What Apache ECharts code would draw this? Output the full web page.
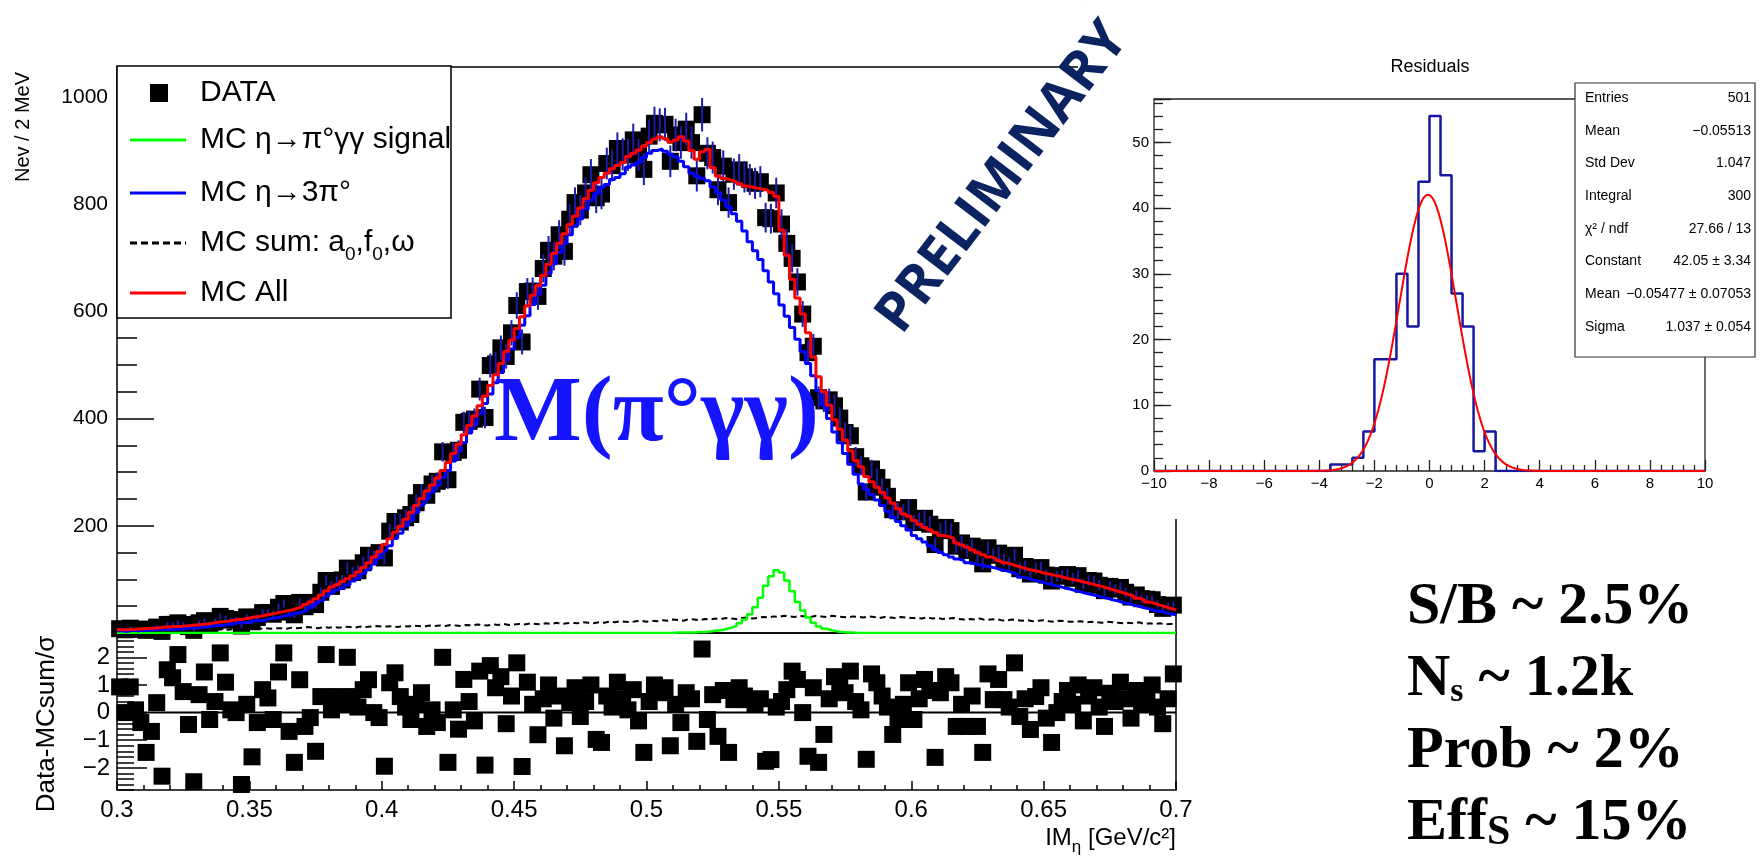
<!DOCTYPE html>
<html>
<head>
<meta charset="utf-8">
<script src="https://cdn.jsdelivr.net/npm/echarts@6/dist/echarts.min.js"></script>
<style>
  html, body { margin: 0; padding: 0; background: #fff; }
  #chart { width: 1761px; height: 859px; }
</style>
</head>
<body>
<div id="chart"></div>
<script>
// Invariant mass binning: 200 bins of 2 MeV between 0.3 and 0.7 GeV/c^2
const BIN_START = 0.3;
const BIN_WIDTH = 0.002;

// MC All (red)
const mcAll = [
  6,6,7,7,8,9,9,10,11,11,
  12,12,13,14,15,16,17,18,20,21,
  22,24,25,26,28,30,31,33,35,37,
  39,41,43,46,49,53,58,64,71,79,
  86,90,96,101,107,114,122,131,142,152,
  165,176,188,199,212,225,238,251,265,276,
  289,303,318,335,352,370,387,405,424,442,
  462,482,503,525,546,568,590,610,630,648,
  667,688,708,727,745,762,778,793,810,826,
  840,850,858,866,872,878,889,895,901,908,
  915,921,926,922,916,920,926,918,900,884,
  898,902,868,852,848,845,842,838,834,832,
  830,828,826,822,815,752,705,660,625,595,
  560,515,478,450,425,398,380,360,340,322,
  310,292,282,272,262,252,242,232,222,218,
  210,203,197,192,187,182,180,177,168,164,
  160,155,150,146,142,139,135,131,128,125,
  122,119,117,115,112,110,108,106,103,101,
  99,97,94,92,89,87,84,81,78,75,
  72,69,65,62,58,55,52,49,46,43
];

// MC eta -> 3pi0 (blue)
const mc3pi = [
  4,3,5,4,5,5,6,6,7,6,
  8,7,8,10,9,11,11,13,14,14,
  16,17,19,19,20,23,23,24,27,28,
  30,33,33,37,39,42,48,55,60,69,
  75,80,84,90,97,102,111,119,129,140,
  153,163,177,186,200,211,225,239,251,263,
  275,290,303,321,339,355,373,389,409,428,
  446,467,486,510,530,551,574,592,613,632,
  649,671,689,710,727,743,760,773,791,808,
  820,831,837,846,850,857,869,873,878,887,
  895,900,903,899,893,888,880,870,858,852,
  848,844,832,822,808,795,782,768,750,730,
  713,697,676,655,633,612,591,570,548,525,
  503,480,452,425,400,375,355,335,315,296,
  278,268,258,248,238,227,216,208,200,192,
  182,176,170,163,156,150,146,142,138,135,
  131,129,127,125,123,121,118,116,113,110,
  104,102,99,97,94,92,89,87,84,82,
  79,77,74,72,70,67,65,62,60,57,
  55,52,50,47,45,42,40,38,36,34
];

// MC eta -> pi0 gamma gamma signal (green)
const mcSignal = [
  0,0,0,0,0,0,0,0,0,0,
  0,0,0,0,0,0,0,0,0,0,
  0,0,0,0,0,0,0,0,0,0,
  0,0,0,0,0,0,0,0,0,0,
  0,0,0,0,0,0,0,0,0,0,
  0,0,0,0,0,0,0,0,0,0,
  0,0,0,0,0,0,0,0,0,0,
  0,0,0,0,0,0,0,0,0,0,
  0,0,0,0,0,0,0,0,0,0,
  0,0,0,0,0,0,0,0,0,0,
  0,0,0,0,0,1,1,1,1,2,
  2,3,4,5,7,10,13,18,25,35,
  48,66,88,106,117,113,98,78,58,42,
  29,19,12,8,5,3,2,1,1,0,
  0,0,0,0,0,0,0,0,0,0,
  0,0,0,0,0,0,0,0,0,0,
  0,0,0,0,0,0,0,0,0,0,
  0,0,0,0,0,0,0,0,0,0,
  0,0,0,0,0,0,0,0,0,0,
  0,0,0,0,0,0,0,0,0,0
];

// MC sum of a0, f0, omega backgrounds (black dashed)
const mcOther = [
  2,3,2,3,3,4,3,4,4,5,
  4,5,5,4,6,5,6,5,6,7,
  6,7,6,7,8,7,8,9,8,9,
  9,8,10,9,10,11,10,9,11,10,
  11,10,12,11,10,12,11,12,13,12,
  12,13,11,13,12,14,13,12,14,13,
  14,13,15,14,13,15,14,16,15,14,
  16,15,17,15,16,17,16,18,17,16,
  18,17,19,17,18,19,18,20,19,18,
  20,19,21,20,22,21,20,22,23,21,
  23,22,24,23,25,24,23,26,25,24,
  26,25,27,26,28,27,26,28,29,27,
  28,30,29,31,30,32,31,30,32,31,
  30,32,31,30,32,31,30,29,31,30,
  29,31,30,28,30,29,28,30,29,28,
  28,27,29,27,28,26,27,28,26,25,
  26,25,27,24,25,26,24,23,25,24,
  23,24,22,23,24,22,21,23,22,21,
  21,22,20,21,20,19,21,20,19,18,
  19,18,20,17,18,17,18,16,17,16
];

// DATA counts per bin
const dataCounts = [
  8,6,9,7,7,5,7,11,3,16,
  16,19,16,12,5,19,23,17,22,31,
  27,24,25,13,30,21,29,38,38,35,
  48,55,39,34,57,49,57,53,76,98,
  87,96,99,121,113,116,131,145,142,150,
  140,190,208,207,215,221,243,262,257,278,
  283,338,286,337,341,393,395,399,455,402,
  499,502,532,516,560,611,543,637,638,628,
  680,714,703,743,712,772,803,789,821,855,
  812,819,876,872,904,893,892,920,892,865,
  927,951,948,949,880,929,915,940,915,853,
  967,895,887,827,871,803,856,864,851,846,
  839,842,775,773,821,763,727,699,655,595,
  523,535,439,433,435,424,401,374,368,329,
  312,263,306,290,272,255,230,228,226,234,
  206,210,214,203,165,192,197,191,162,168,
  154,162,144,129,159,145,149,136,130,145,
  120,124,110,121,122,108,97,106,107,109,
  102,107,91,98,97,89,79,87,82,85,
  76,67,71,64,63,62,53,46,49,52
];

// (Data - MC sum) / sigma per bin
const pulls = [
  0.93,0.0,0.93,0.1,-0.36,-1.44,-0.68,0.36,-2.3,1.55,
  1.26,2.1,0.76,-0.43,-2.5,0.65,1.47,-0.25,0.4,2.16,
  1.1,0.1,0.0,-2.6,0.3,-1.6,-0.36,0.83,0.53,-0.25,
  1.47,2.16,-0.68,-1.8,1.19,-0.5,-0.18,-1.4,0.58,2.1,
  0.1,0.58,0.3,2.0,0.58,0.2,0.83,1.19,0.0,-0.18,
  -1.94,1.08,1.44,0.58,0.2,-0.25,0.3,0.72,-0.5,0.1,
  -0.36,2.0,-1.8,0.1,-0.6,1.2,0.4,-0.3,1.5,-1.9,
  1.7,0.9,1.3,-0.4,0.6,1.8,-1.95,1.1,0.3,-0.8,
  0.5,1.0,-0.2,0.6,-1.2,0.36,0.9,-0.14,0.4,1.0,
  -0.97,-1.08,0.6,0.2,1.1,0.5,0.1,0.83,-0.3,-1.44,
  0.4,1.0,0.72,0.9,-1.2,0.3,-0.36,0.72,0.5,-1.04,
  2.3,-0.25,0.65,-0.86,0.8,-1.44,0.47,0.9,0.6,0.47,
  0.3,0.5,-1.76,-1.7,0.2,0.4,0.83,1.5,1.2,0.0,
  -1.58,0.9,-1.8,-0.79,0.5,1.3,1.08,0.72,1.5,0.4,
  0.1,-1.69,1.4,1.08,0.6,0.2,-0.79,-0.25,0.3,1.08,
  -0.25,0.5,1.2,0.8,-1.62,0.72,1.3,1.08,-0.5,0.3,
  -0.5,0.6,-0.5,-1.44,1.4,0.47,1.2,0.47,0.2,1.8,
  -0.14,0.5,-0.61,0.58,0.9,-0.2,-1.08,0.0,0.4,0.8,
  0.3,1.0,-0.3,0.6,0.9,0.2,-0.5,0.7,0.4,1.1,
  0.5,-0.2,0.8,0.3,0.6,1.0,0.2,-0.4,0.5,1.4
];

// Residuals histogram: 50 bins of 0.4 between -10 and 10
const RES_START = -10;
const RES_WIDTH = 0.4;
const residualCounts = [
  0,0,0,0,0,0,0,0,0,0,
  0,0,0,0,0,0,1,1,2,6,
  17,17,30,22,44,54,45,27,22,3,
  6,0,0,0,0,0,0,0,0,0,
  0,0,0,0,0,0,0,0,0,0
];

// Gaussian fit parameters shown in the statistics box
const gausFit = { constant: 42.05, mean: -0.05477, sigma: 1.037 };

const statsRows = [
  ['Entries', '501'],
  ['Mean', '\u22120.05513'],
  ['Std Dev', '1.047'],
  ['Integral', '300'],
  ['\u03c7\u00b2 / ndf', '27.66 / 13'],
  ['Constant', '42.05 \u00b1 3.34'],
  ['Mean', '\u22120.05477 \u00b1 0.07053'],
  ['Sigma', '1.037 \u00b1 0.054']
];

const summaryRich = [
  '{b|S/B ~ 2.5%}',
  '{b|N}{s|s}{b| ~ 1.2k}',
  '{b|Prob ~ 2%}',
  '{b|Eff}{S|S}{b| ~ 15%}'
];

// ---------------------------------------------------------------
const SANS = '"Liberation Sans", Arial, Helvetica, sans-serif';
const SERIF = '"Liberation Serif", "Times New Roman", serif';
const BOLDSANS = '"Open Sans", "Liberation Sans", sans-serif';
const withMinus = v => String(v).replace('-', '\u2212');

function histSteps(vals, start, width) {
  const pts = [];
  vals.forEach((v, i) => {
    pts.push([start + i * width, v], [start + (i + 1) * width, v]);
  });
  return pts;
}
function binCenters(vals, start, width) {
  return vals.map((v, i) => [start + (i + 0.5) * width, v]);
}

const fitCurve = [];
for (let k = 0; k <= 400; k++) {
  const x = RES_START + k * 0.05;
  const t = (x - gausFit.mean) / gausFit.sigma;
  fitCurve.push([x, gausFit.constant * Math.exp(-0.5 * t * t)]);
}

const blackLine = { color: '#000', width: 1.5 };
const insetLine = { color: '#222', width: 1.3 };
const noLine = { show: false, onZero: false };

const chart = echarts.init(document.getElementById('chart'), null, { renderer: 'canvas', width: 1761, height: 859 });

const lineSeries = (name, vals, color, width, type, z) => ({
  name, type: 'line', xAxisIndex: 0, yAxisIndex: 0,
  data: histSteps(vals, BIN_START, BIN_WIDTH),
  symbol: 'none', silent: true, z,
  lineStyle: { color, width, type: type || 'solid' }
});

const txt = (x, y, text, font, extra) => Object.assign({
  type: 'text', x, y, silent: true,
  style: Object.assign({ text, font, fill: '#000', align: 'left', verticalAlign: 'middle', textAlign: 'left', textVerticalAlign: 'middle' }, (extra && extra.style) || {})
}, extra ? { z: extra.z, rotation: extra.rotation || 0 } : {});

const graphics = [];
// inset pad background
graphics.push({ type: 'rect', shape: { x: 1078, y: 30, width: 683, height: 489 }, style: { fill: '#fff' }, z: 10, silent: true });
graphics.push(txt(1430, 67, 'Residuals', '18px ' + SANS, { z: 13, style: { align: 'center', textAlign: 'center' } }));
// statistics box
graphics.push({ type: 'rect', shape: { x: 1575, y: 83, width: 180, height: 274 }, style: { fill: '#fff', stroke: '#333', lineWidth: 1.2 }, z: 14, silent: true });
statsRows.forEach((row, i) => {
  const y = 98 + i * 32.7;
  graphics.push(txt(1585, y, row[0], '14px ' + SANS, { z: 15 }));
  graphics.push(txt(1751, y, row[1], '14px ' + SANS, { z: 15, style: { align: 'right', textAlign: 'right' } }));
});

// legend box
graphics.push({ type: 'rect', shape: { x: 117, y: 66, width: 334, height: 252 }, style: { fill: '#fff', stroke: '#000', lineWidth: 1.5 }, z: 20, silent: true });
graphics.push({ type: 'rect', shape: { x: 150, y: 84, width: 18, height: 18 }, style: { fill: '#000' }, z: 21, silent: true });
const legendLines = [
  { y: 140, color: '#00ff00', dash: null },
  { y: 193, color: '#0000ff', dash: null },
  { y: 243, color: '#000000', dash: [7, 4] },
  { y: 293, color: '#ff0000', dash: null }
];
legendLines.forEach(l => {
  graphics.push({ type: 'line', shape: { x1: 130, y1: l.y, x2: 186, y2: l.y }, z: 21, silent: true,
    style: { stroke: l.color, lineWidth: 3, lineDash: l.dash } });
});
const legendTexts = [
  { y: 93, text: 'DATA' },
  { y: 140, text: 'MC \u03b7\u2192\u03c0\u00b0\u03b3\u03b3 signal' },
  { y: 193, text: 'MC \u03b7\u21923\u03c0\u00b0' },
  { y: 243, text: '{n|MC sum: a}{s|0}{n|,f}{s|0}{n|,\u03c9}' },
  { y: 293, text: 'MC All' }
];
legendTexts.forEach(t => {
  graphics.push(txt(200, t.y, t.text, '30px ' + SANS, { z: 21, style: {
    rich: { n: { font: '30px ' + SANS, fill: '#000' }, s: { font: '19px ' + SANS, fill: '#000', verticalAlign: 'bottom', padding: [0, 0, -6, 0] } } } }));
});

// axis titles
graphics.push(txt(23, 127, 'Nev / 2 MeV', '20px ' + SANS, { z: 20, rotation: Math.PI / 2, style: { align: 'center', textAlign: 'center' } }));
graphics.push(txt(47, 724, 'Data-MCsum/\u03c3', '26px ' + SANS, { z: 20, rotation: Math.PI / 2, style: { align: 'center', textAlign: 'center' } }));
graphics.push(txt(1176, 838, '{n|IM}{s|\u03b7}{n| [GeV/c\u00b2]}', '24px ' + SANS, { z: 20, style: { align: 'right', textAlign: 'right',
  rich: { n: { font: '24px ' + SANS, fill: '#000' }, s: { font: '17px ' + SANS, fill: '#000', verticalAlign: 'bottom', padding: [0, 0, -6, 0] } } } }));

// annotations
graphics.push(txt(1019, -32, '(\u03c0\u00b0\u03b3\u03b3)', '67px ' + SERIF, { z: 30, style: { fill: '#3a6ab8', align: 'center', textAlign: 'center' } }));
graphics.push(txt(1003, 178, 'PRELIMINARY', 'bold 55px ' + BOLDSANS, { z: 30, rotation: 52.5 * Math.PI / 180, style: { fill: '#0b2461', align: 'center', textAlign: 'center' } }));
graphics.push(txt(494, 416, 'M(\u03c0\u00b0\u03b3\u03b3)', 'bold 93px ' + SERIF, { z: 30, style: { fill: '#1414ff' } }));

const richSummary = {
  b: { font: 'bold 60px ' + SERIF, fill: '#000' },
  s: { font: 'bold 34px ' + SERIF, fill: '#000', verticalAlign: 'bottom' },
  S: { font: 'bold 42px ' + SERIF, fill: '#000', verticalAlign: 'bottom' }
};
summaryRich.forEach((t, i) => {
  graphics.push(txt(1407, 607 + i * 72.3, t, 'bold 60px ' + SERIF, { z: 20, style: { rich: richSummary } }));
});

const option = {
  animation: false,
  backgroundColor: '#fff',
  grid: [
    { left: 117, top: 67, width: 1059, height: 566, show: true, borderColor: '#000', borderWidth: 1.5, backgroundColor: 'transparent' },
    { left: 117, top: 633, width: 1059, height: 157, show: true, borderColor: '#000', borderWidth: 1.5, backgroundColor: 'transparent' },
    { left: 1154, top: 99, width: 551, height: 372, show: true, borderColor: '#222', borderWidth: 1.3, backgroundColor: 'transparent', z: 12 }
  ],
  xAxis: [
    { gridIndex: 0, type: 'value', min: 0.3, max: 0.7, interval: 0.05,
      axisLine: noLine, axisTick: { show: false }, axisLabel: { show: false }, splitLine: { show: false } },
    { gridIndex: 1, type: 'value', min: 0.3, max: 0.7, interval: 0.05,
      axisLine: noLine,
      axisTick: { inside: true, length: 9, lineStyle: blackLine },
      minorTick: { show: true, splitNumber: 5, length: 5, lineStyle: blackLine },
      axisLabel: { color: '#000', fontFamily: SANS, fontSize: 24, margin: 8 },
      splitLine: { show: false } },
    { gridIndex: 2, type: 'value', min: -10, max: 10, interval: 2, z: 12,
      axisLine: noLine,
      axisTick: { inside: true, length: 11, lineStyle: insetLine },
      minorTick: { show: true, splitNumber: 5, length: 6, lineStyle: insetLine },
      axisLabel: { color: '#000', fontFamily: SANS, fontSize: 15, margin: 5, formatter: v => withMinus(v) },
      splitLine: { show: false } }
  ],
  yAxis: [
    { gridIndex: 0, type: 'value', position: 'left', min: 0, max: 1056, interval: 50,
      axisLine: noLine, axisTick: { inside: true, length: 20, lineStyle: blackLine },
      axisLabel: { show: false }, splitLine: { show: false } },
    { gridIndex: 0, type: 'value', position: 'left', min: 0, max: 1056, interval: 200,
      axisLine: noLine, axisTick: { inside: true, length: 37, lineStyle: blackLine },
      axisLabel: { color: '#000', fontFamily: SANS, fontSize: 21, margin: 9,
        formatter: v => (v > 0 && v % 200 === 0) ? String(v) : '' },
      splitLine: { show: false } },
    { gridIndex: 1, type: 'value', position: 'left', min: -2.8, max: 2.88, interval: 0.2,
      axisLine: noLine, axisTick: { inside: true, length: 17, lineStyle: blackLine },
      axisLabel: { color: '#000', fontFamily: SANS, fontSize: 24, margin: 7,
        formatter: v => Math.abs(v - Math.round(v)) < 1e-6 ? withMinus(Math.round(v)) : '' },
      splitLine: { show: false } },
    { gridIndex: 1, type: 'value', position: 'left', min: -2.8, max: 2.88,
      axisLine: noLine,
      axisTick: { inside: true, length: 30, lineStyle: blackLine, customValues: [-2, -1, 0, 1, 2] },
      axisLabel: { show: false }, splitLine: { show: false } },
    { gridIndex: 2, type: 'value', position: 'left', min: 0, max: 56.6, interval: 2, z: 12,
      axisLine: noLine, axisTick: { inside: true, length: 9, lineStyle: insetLine },
      axisLabel: { show: false }, splitLine: { show: false } },
    { gridIndex: 2, type: 'value', position: 'left', min: 0, max: 56.6, interval: 10, z: 12,
      axisLine: noLine, axisTick: { inside: true, length: 17, lineStyle: insetLine },
      axisLabel: { color: '#000', fontFamily: SANS, fontSize: 15, margin: 5,
        formatter: v => (v % 10 === 0) ? String(v) : '' },
      splitLine: { show: false } }
  ],
  series: [
    // data points with statistical error bars
    { name: 'DATA', type: 'scatter', xAxisIndex: 0, yAxisIndex: 0, z: 2, silent: true,
      data: binCenters(dataCounts, BIN_START, BIN_WIDTH),
      symbol: 'rect', symbolSize: 17, itemStyle: { color: '#000', opacity: 1 } },
    { name: 'DATA errors', type: 'custom', xAxisIndex: 0, yAxisIndex: 0, z: 3, silent: true,
      data: binCenters(dataCounts, BIN_START, BIN_WIDTH),
      renderItem: (params, api) => {
        const x = api.value(0), v = api.value(1), e = Math.sqrt(v);
        const p1 = api.coord([x, v + e]), p2 = api.coord([x, v - e]);
        return { type: 'line', shape: { x1: p1[0], y1: p1[1], x2: p2[0], y2: p2[1] }, style: { stroke: '#1c1ca8', lineWidth: 2 } };
      } },
    lineSeries('MC sum: a0,f0,omega', mcOther, '#000', 2, [6, 4], 4),
    lineSeries('MC signal', mcSignal, '#00ff00', 2.5, null, 5),
    lineSeries('MC 3pi0', mc3pi, '#0000ff', 3, null, 6),
    lineSeries('MC All', mcAll, '#ff0000', 3, null, 7),

    // residual panel
    { name: 'zero', type: 'line', xAxisIndex: 1, yAxisIndex: 2, z: 2, silent: true, symbol: 'none',
      data: [[0.3, 0], [0.7, 0]], lineStyle: { color: '#000', width: 2 } },
    { name: 'pulls', type: 'scatter', xAxisIndex: 1, yAxisIndex: 2, z: 3, silent: true,
      data: binCenters(pulls, BIN_START, BIN_WIDTH),
      symbol: 'rect', symbolSize: 17, itemStyle: { color: '#000', opacity: 1 } },

    // inset: distribution of residuals and Gaussian fit
    { name: 'Residuals', type: 'line', xAxisIndex: 2, yAxisIndex: 4, z: 12, silent: true, symbol: 'none',
      data: histSteps(residualCounts, RES_START, RES_WIDTH), lineStyle: { color: '#1616a0', width: 2.5 } },
    { name: 'gaus', type: 'line', xAxisIndex: 2, yAxisIndex: 4, z: 13, silent: true, symbol: 'none',
      data: fitCurve, lineStyle: { color: '#ff0000', width: 2 } }
  ],
  graphic: { elements: graphics }
};

chart.setOption(option);
</script>
</body>
</html>
